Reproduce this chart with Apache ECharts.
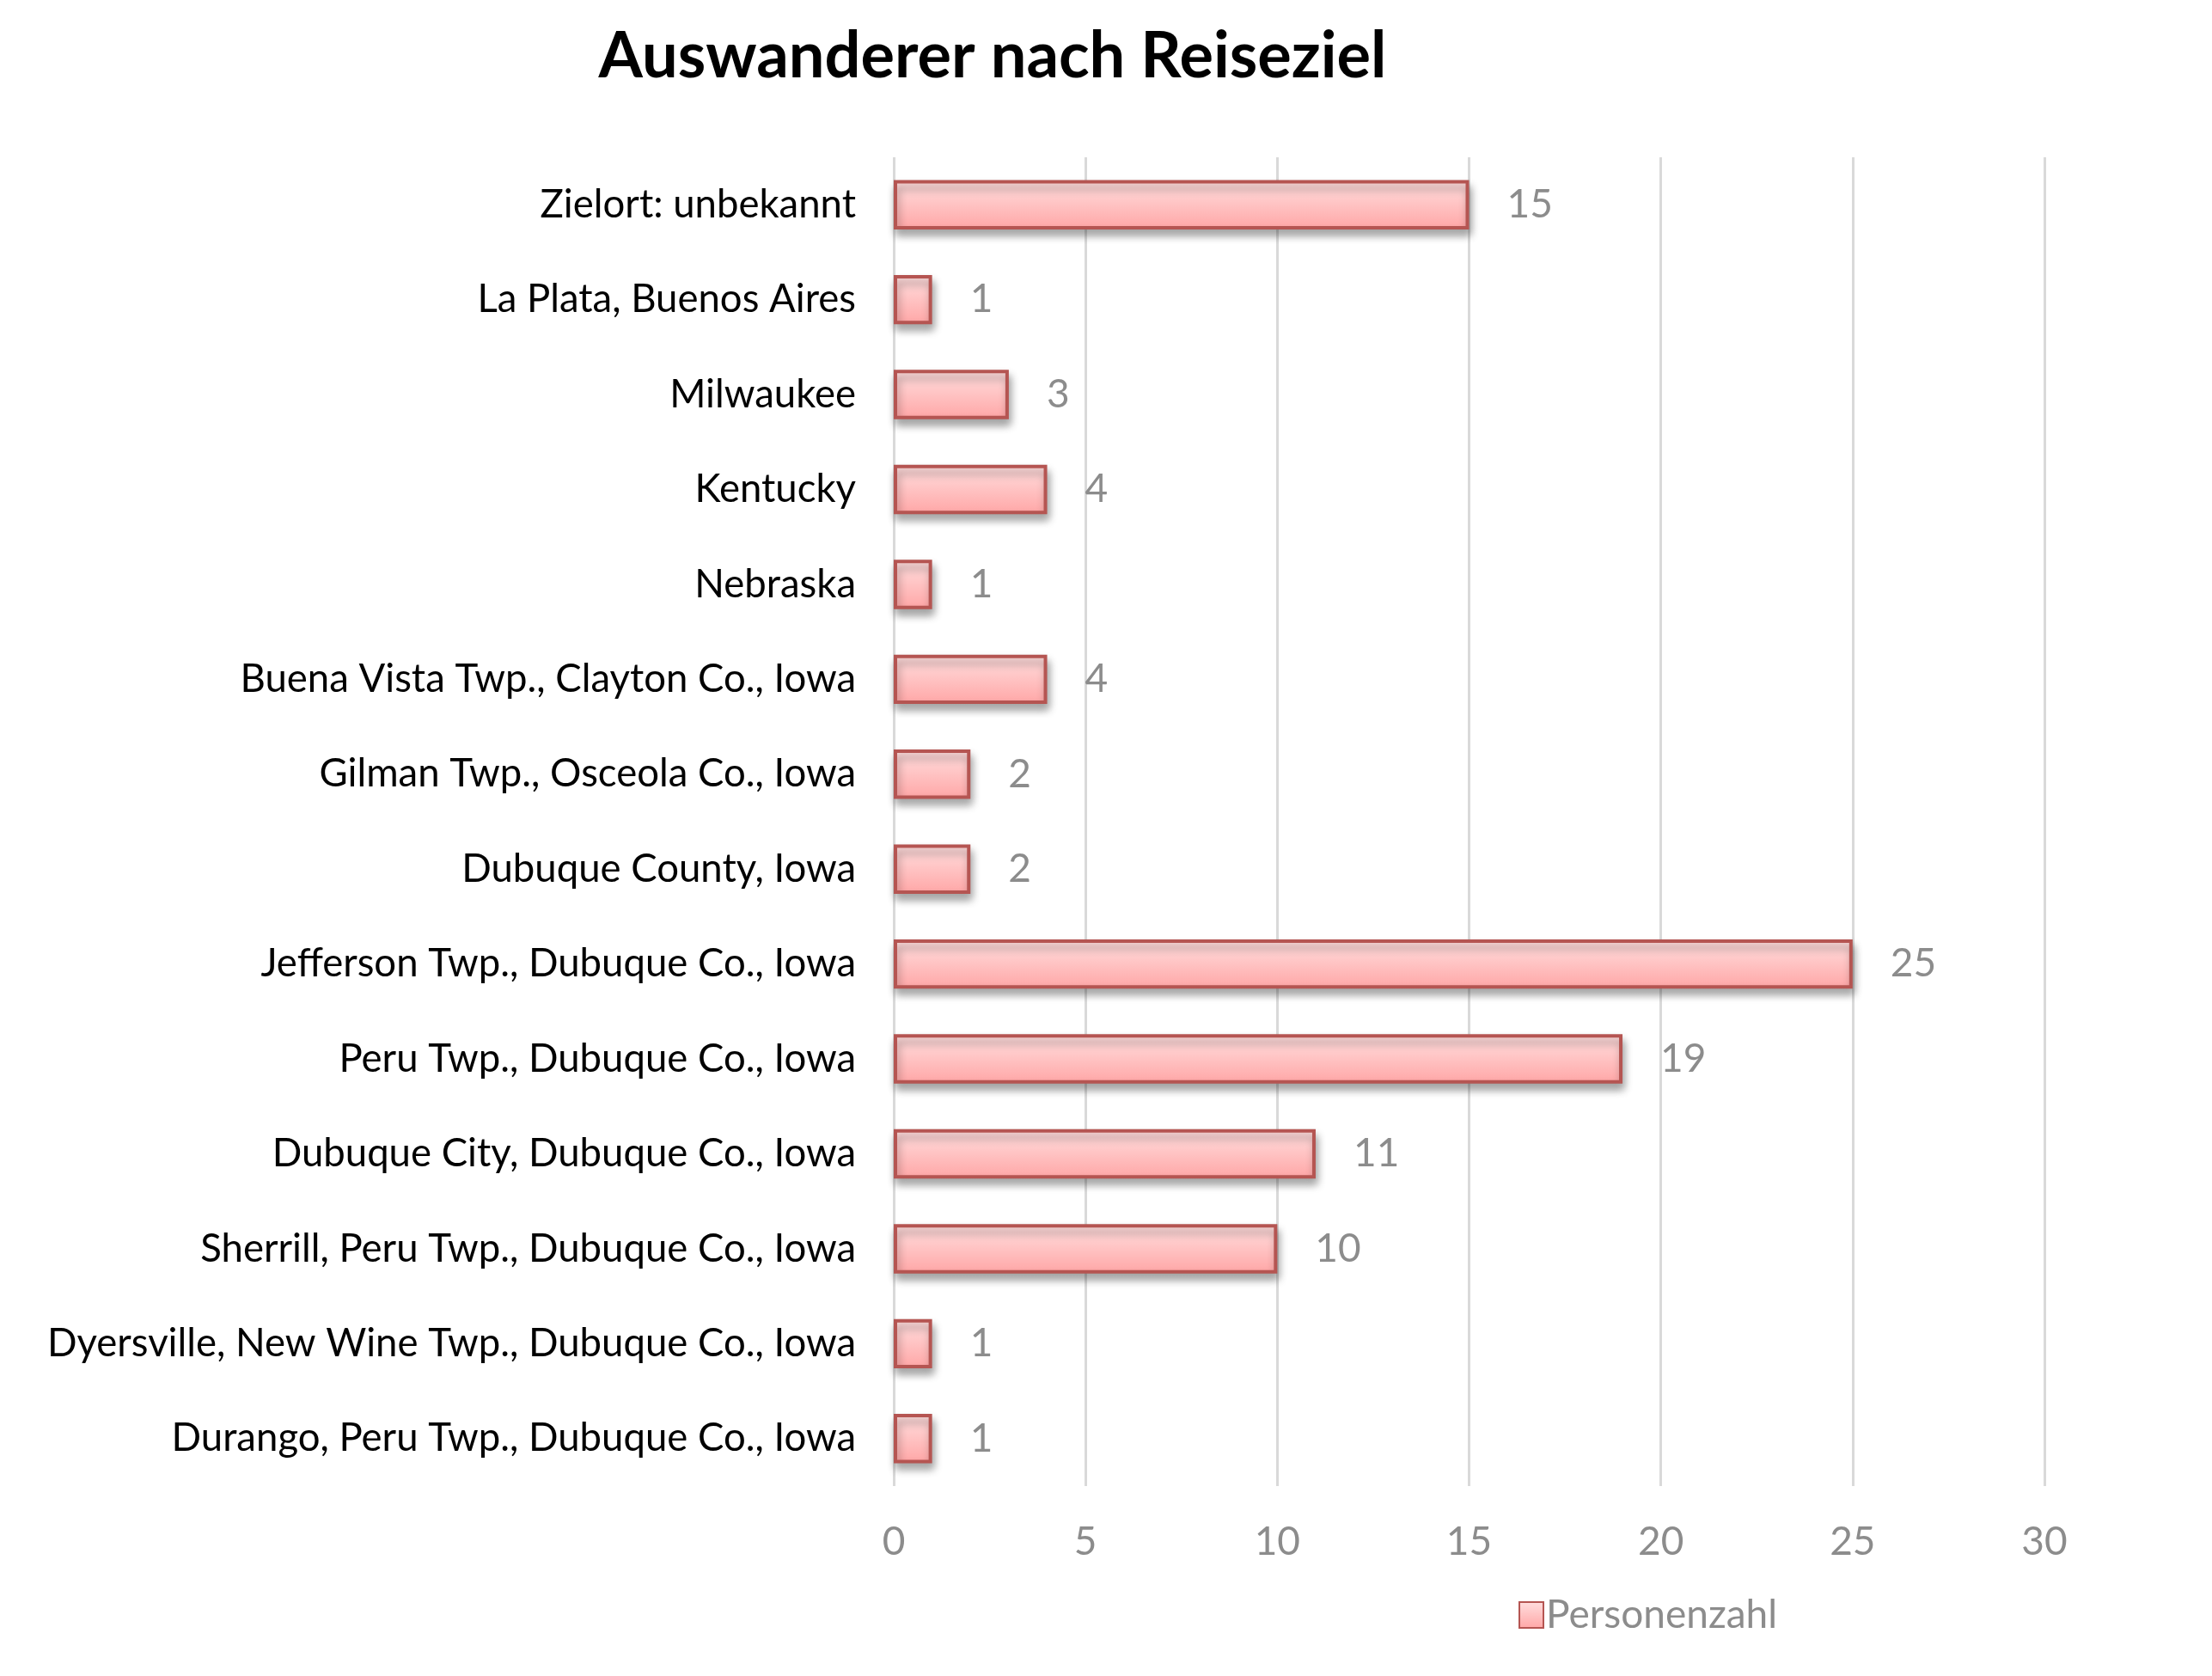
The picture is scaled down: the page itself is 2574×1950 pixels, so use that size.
<!DOCTYPE html>
<html>
<head>
<meta charset="utf-8">
<script src="https://cdn.jsdelivr.net/npm/echarts@6/dist/echarts.min.js"></script>
<style>html,body{margin:0;padding:0;background:#fff;}#c{width:2574px;height:1950px;}</style>
</head>
<body>
<div id="c"></div>
<script>
const chartTitle = 'Auswanderer nach Reiseziel';
const seriesName = 'Personenzahl';
const categories = [
  'Zielort: unbekannt',
  'La Plata, Buenos Aires',
  'Milwaukee',
  'Kentucky',
  'Nebraska',
  'Buena Vista Twp., Clayton Co., Iowa',
  'Gilman Twp., Osceola Co., Iowa',
  'Dubuque County, Iowa',
  'Jefferson Twp., Dubuque Co., Iowa',
  'Peru Twp., Dubuque Co., Iowa',
  'Dubuque City, Dubuque Co., Iowa',
  'Sherrill, Peru Twp., Dubuque Co., Iowa',
  'Dyersville, New Wine Twp., Dubuque Co., Iowa',
  'Durango, Peru Twp., Dubuque Co., Iowa'
];
const values = [15, 1, 3, 4, 1, 4, 2, 2, 25, 19, 11, 10, 1, 1];
const xTicks = [0, 5, 10, 15, 20, 25, 30];

const FONT = 'Lato, Carlito, Calibri, "Open Sans", sans-serif';
const chart = echarts.init(document.getElementById('c'));
const barFill = new echarts.graphic.LinearGradient(0, 0, 0, 1, [
  {offset: 0, color: '#ffdfdf'},
  {offset: 1, color: '#ffa6a6'}
]);
chart.setOption({
  animation: false,
  backgroundColor: '#ffffff',
  title: {
    text: chartTitle,
    left: 1150,
    textAlign: 'center',
    top: 24,
    textStyle: {fontFamily: FONT, fontWeight: 'bold', fontSize: 74, color: '#000'}
  },
  legend: {
    data: [seriesName],
    left: 1762,
    top: 1851,
    icon: 'rect',
    itemWidth: 28,
    itemHeight: 30,
    itemGap: 10,
    textStyle: {fontFamily: FONT, fontSize: 46, color: '#8c8c8c', padding: [0, 0, 0, -2]}
  },
  grid: {left: 1040, right: 195, top: 183, bottom: 221, containLabel: false},
  xAxis: {
    type: 'value',
    min: xTicks[0],
    max: xTicks[xTicks.length - 1],
    interval: 5,
    axisLine: {show: false},
    axisTick: {show: false},
    axisLabel: {fontFamily: FONT, fontSize: 46, color: '#8c8c8c', margin: 42},
    splitLine: {show: true, lineStyle: {color: '#d9d9d9', width: 3}}
  },
  yAxis: {
    type: 'category',
    data: categories,
    inverse: true,
    axisLine: {show: false},
    axisTick: {show: false},
    axisLabel: {fontFamily: FONT, fontSize: 45.5, color: '#000', margin: 44}
  },
  series: [{
    name: seriesName,
    type: 'bar',
    data: values,
    barCategoryGap: '48%',
    itemStyle: {
      color: barFill,
      borderColor: '#b55552',
      borderWidth: 4,
      shadowColor: 'rgba(0,0,0,0.35)',
      shadowBlur: 10,
      shadowOffsetY: 7,
      shadowOffsetX: 2
    },
    label: {
      show: true,
      position: 'right',
      distance: 44,
      fontFamily: FONT,
      fontSize: 46,
      color: '#8c8c8c'
    }
  }]
});
</script>
</body>
</html>
